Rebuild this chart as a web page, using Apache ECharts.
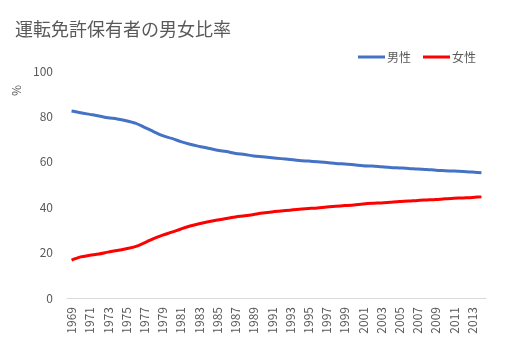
<!DOCTYPE html>
<html>
<head>
<meta charset="utf-8">
<script src="https://cdn.jsdelivr.net/npm/echarts@6/dist/echarts.min.js"></script>
<style>
  html, body { margin: 0; padding: 0; background: #fff; }
  #chart { width: 515px; height: 354px; }
</style>
</head>
<body>
<div id="chart"></div>
<script>
// データ
const years = [];
for (let y = 1969; y <= 2014; y++) years.push(String(y));

const male = [
  82.4, 81.6, 80.9, 80.2, 79.4, 78.9, 78.1, 77.0, 75.2, 73.3,
  71.5, 70.3, 68.9, 67.7, 66.8, 66.0, 65.1, 64.5, 63.7, 63.2,
  62.6, 62.2, 61.8, 61.4, 61.0, 60.6, 60.3, 60.0, 59.7, 59.3,
  59.0, 58.7, 58.3, 58.1, 57.8, 57.5, 57.3, 57.1, 56.8, 56.6,
  56.3, 56.1, 55.9, 55.7, 55.5, 55.2
];
const female = [
  16.7, 18.1, 18.8, 19.4, 20.2, 20.9, 21.7, 22.6, 24.3, 26.2,
  27.7, 29.0, 30.4, 31.7, 32.7, 33.6, 34.4, 35.0, 35.7, 36.2,
  36.8, 37.4, 37.9, 38.3, 38.7, 39.1, 39.4, 39.7, 40.1, 40.4,
  40.7, 41.0, 41.4, 41.7, 41.9, 42.2, 42.5, 42.7, 43.0, 43.2,
  43.4, 43.7, 43.9, 44.1, 44.3, 44.6
];
const yTicks = [0, 20, 40, 60, 80, 100];

const FONT = '"Noto Sans CJK JP", "Noto Sans", sans-serif';
const TXT = '#595959';

const chart = echarts.init(document.getElementById('chart'));

chart.setOption({
  animation: false,
  textStyle: { fontFamily: FONT },
  title: {
    text: '運転免許保有者の男女比率',
    left: 10,
    top: 15,
    textStyle: { fontFamily: FONT, fontSize: 18, fontWeight: 'normal', color: TXT }
  },
  legend: {
    data: ['男性', '女性'],
    icon: 'rect',
    right: 34,
    top: 46,
    itemWidth: 27,
    itemHeight: 3,
    itemGap: 12,
    textStyle: { fontFamily: FONT, fontSize: 12, color: TXT, padding: [0, 0, 0, -3] }
  },
  graphic: [{
    type: 'text',
    left: 10,
    top: 85,
    rotation: Math.PI / 2,
    style: { text: '%', fontFamily: FONT, fontSize: 12, fill: TXT }
  }],
  grid: { left: 67, right: 29, top: 71, bottom: 56 },
  xAxis: {
    type: 'category',
    data: years,
    boundaryGap: true,
    axisLine: { lineStyle: { color: '#d9d9d9', width: 1 } },
    axisTick: { show: false },
    axisLabel: {
      interval: 1,
      rotate: 90,
      margin: 9,
      color: TXT,
      fontSize: 12,
      fontFamily: FONT
    },
    splitLine: { show: false }
  },
  yAxis: {
    type: 'value',
    min: yTicks[0],
    max: yTicks[yTicks.length - 1],
    interval: 20,
    axisLine: { show: false },
    axisTick: { show: false },
    splitLine: { show: false },
    axisLabel: { color: TXT, fontSize: 12, fontFamily: FONT, margin: 14 }
  },
  series: [
    {
      name: '男性',
      type: 'line',
      data: male,
      symbol: 'none',
      smooth: 0.3,
      lineStyle: { color: '#4472C4', width: 3 },
      itemStyle: { color: '#4472C4' }
    },
    {
      name: '女性',
      type: 'line',
      data: female,
      symbol: 'none',
      smooth: 0.3,
      lineStyle: { color: '#FF0000', width: 3 },
      itemStyle: { color: '#FF0000' }
    }
  ]
});
</script>
</body>
</html>
